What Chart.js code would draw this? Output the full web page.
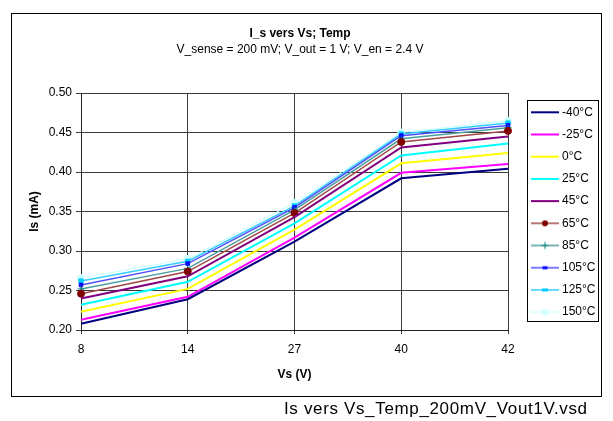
<!DOCTYPE html>
<html>
<head>
<meta charset="utf-8">
<script src="https://cdn.jsdelivr.net/npm/chart.js@4"></script>
<style>
  body { margin: 0; background: #fff; }
  #wrap { position: relative; width: 613px; height: 421px; }
  #frame { position: absolute; left: 11px; top: 13px; width: 591px; height: 384px; border: 1px solid #000; box-sizing: border-box; }
  #chart { position: absolute; left: 0; top: 0; }
  #footer { position: absolute; left: 284px; top: 399px; font: 17px "Liberation Sans", Arial, sans-serif; letter-spacing: 0.65px; color: #000; white-space: nowrap; }
</style>
</head>
<body>
<div id="wrap">
  <div id="frame"></div>
  <canvas id="chart" width="613" height="421"></canvas>
  <div id="footer">Is vers Vs_Temp_200mV_Vout1V.vsd</div>
</div>
<script>
// Vs (V) categories
const vsLabels = ['8', '14', '27', '40', '42'];
const tempLabels = ['-40°C', '-25°C', '0°C', '25°C', '45°C', '65°C', '85°C', '105°C', '125°C', '150°C'];

// Is (mA) per temperature
const isM40 = [0.208, 0.239, 0.312, 0.392, 0.404];
const isM25 = [0.213, 0.242, 0.317, 0.399, 0.410];
const is0   = [0.223, 0.252, 0.327, 0.411, 0.424];
const is25  = [0.232, 0.261, 0.335, 0.421, 0.436];
const is45  = [0.240, 0.268, 0.343, 0.431, 0.445];
const is65  = [0.246, 0.274, 0.348, 0.438, 0.452];
const is85  = [0.252, 0.278, 0.352, 0.442, 0.456];
const is105 = [0.257, 0.284, 0.355, 0.446, 0.459];
const is125 = [0.262, 0.287, 0.357, 0.448, 0.462];
const is150 = [0.266, 0.290, 0.361, 0.450, 0.465];

const yMin = 0.20, yMax = 0.50, yStep = 0.05;

const FONT = '"Liberation Sans", Arial, sans-serif';

// line colour, width, marker
const styles = [
  { line: '#000080', w: 2 },
  { line: '#FF00FF', w: 2 },
  { line: '#FFFF00', w: 2 },
  { line: '#00FFFF', w: 2 },
  { line: '#800080', w: 2 },
  { line: '#A04848', w: 1.5, marker: 'circle', mc: '#800000', r: 3.5 },
  { line: '#4D9E9E', w: 1.5, marker: 'cross', mc: '#008080', r: 3.5 },
  { line: '#4F4FFF', w: 1.5, marker: 'rect', mc: '#0000FF', r: 2.5 },
  { line: '#33CCFF', w: 1.5, marker: 'rect', mc: '#00CCFF', r: 3 },
  { line: '#C0FFFF', w: 1, marker: 'circle', mc: '#CCFFFF', r: 3.5 }
];
const series = [isM40, isM25, is0, is25, is45, is65, is85, is105, is125, is150];

// little line+marker pictures for the legend
function swatch(s) {
  const c = document.createElement('canvas');
  c.width = 28; c.height = 10;
  const g = c.getContext('2d');
  g.strokeStyle = s.line;
  g.lineWidth = s.w;
  g.beginPath(); g.moveTo(0, 5); g.lineTo(28, 5); g.stroke();
  if (s.marker === 'circle') {
    g.fillStyle = s.mc;
    g.beginPath(); g.arc(14, 5, 3, 0, Math.PI * 2); g.fill();
  } else if (s.marker === 'cross') {
    g.strokeStyle = s.mc; g.lineWidth = 1;
    g.beginPath(); g.moveTo(14, 1.5); g.lineTo(14, 8.5); g.moveTo(10.5, 5); g.lineTo(17.5, 5); g.stroke();
  } else if (s.marker === 'rect') {
    g.fillStyle = s.mc;
    g.fillRect(14 - s.r, 5 - 1.5, s.r * 2, 3);
  }
  return c;
}
const swatches = styles.map(swatch);

const datasets = series.map((d, i) => {
  const s = styles[i];
  return {
    label: tempLabels[i],
    data: d,
    borderColor: s.line,
    backgroundColor: s.mc || s.line,
    borderWidth: s.w,
    tension: 0,
    pointStyle: s.marker || 'circle',
    pointRadius: s.marker ? s.r : 0,
    pointBackgroundColor: s.mc || s.line,
    pointBorderColor: s.mc || s.line,
    pointBorderWidth: 1
  };
});

const legendFrame = {
  id: 'legendFrame',
  beforeDraw(chart) {
    const lg = chart.legend;
    const w = lg.width, h = lg.height;
    lg.left = 523.8; lg.right = lg.left + w;
    lg.top = 96.1; lg.bottom = lg.top + h;
  },
  afterDraw(chart) {
    const ctx = chart.ctx;
    ctx.save();
    ctx.strokeStyle = '#000';
    ctx.lineWidth = 1;
    ctx.strokeRect(527.5, 100.5, 71, 221);
    ctx.restore();
  }
};

new Chart(document.getElementById('chart'), {
  type: 'line',
  data: { labels: vsLabels, datasets: datasets },
  options: {
    responsive: false,
    animation: false,
    layout: { padding: { top: 20, left: 14, right: 27, bottom: 31 } },
    plugins: {
      title: {
        display: true,
        text: 'I_s vers Vs; Temp',
        color: '#000',
        font: { family: FONT, size: 12, weight: 'bold' },
        padding: { top: 6.8, bottom: 0 }
      },
      subtitle: {
        display: true,
        text: 'V_sense = 200 mV; V_out = 1 V; V_en = 2.4 V',
        color: '#000',
        font: { family: FONT, size: 12 },
        padding: { top: 0.9, bottom: 36.5 }
      },
      legend: {
        position: 'right',
        align: 'start',
        maxWidth: 78,
        labels: {
          color: '#000',
          font: { family: FONT, size: 12 },
          usePointStyle: true,
          pointStyleWidth: 22,
          padding: 10.2,
          generateLabels(chart) {
            const items = Chart.defaults.plugins.legend.labels.generateLabels(chart);
            items.forEach((it, i) => { it.pointStyle = swatches[i]; });
            return items;
          }
        }
      },
      tooltip: { enabled: false }
    },
    scales: {
      x: {
        type: 'category',
        offset: false,
        grid: { color: '#3a3a3a', tickLength: 4, offset: false },
        border: { color: '#222', width: 1 },
        ticks: { color: '#000', font: { family: FONT, size: 12 }, padding: 8, maxRotation: 0 },
        title: {
          display: true, text: 'Vs (V)', color: '#000',
          font: { family: FONT, size: 12, weight: 'bold' },
          padding: { top: 0, bottom: 7.8 }
        },
        afterFit(scale) { scale.height = 60; }
      },
      y: {
        min: yMin,
        max: yMax,
        grid: { color: '#3a3a3a', tickLength: 5 },
        border: { color: '#222', width: 1 },
        ticks: {
          stepSize: yStep,
          color: '#000',
          font: { family: FONT, size: 12 },
          padding: 4,
          callback: v => v.toFixed(2)
        },
        title: {
          display: true, text: 'Is (mA)', color: '#000',
          font: { family: FONT, size: 12, weight: 'bold' },
          padding: { top: 13.8, bottom: 0 }
        },
        afterFit(scale) { scale.width = 67; }
      }
    }
  },
  plugins: [legendFrame]
});
</script>
</body>
</html>
